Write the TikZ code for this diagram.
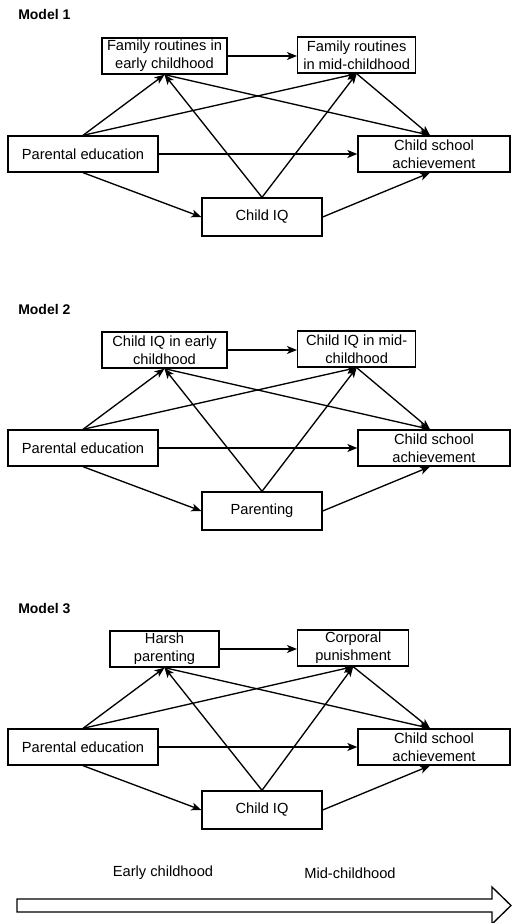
\documentclass[tikz,border=0pt]{standalone}
\usepackage{fontspec}
\setmainfont{Liberation Sans}
\usetikzlibrary{arrows.meta,positioning}

\begin{document}
\begin{tikzpicture}[x=0.75pt,y=-0.75pt,font=\fontsize{11}{13.5}\selectfont,
	box/.style={draw,line width=1pt,align=center,inner sep=1pt,minimum height=36*0.75pt},
	title/.style={font=\fontsize{10.5}{12}\selectfont\bfseries,anchor=west,inner sep=0pt}]
	\useasboundingbox (0,0) rectangle (511,923);
	\foreach \m/\yy/\la/\lb/\lc/\wa/\wb in {1/154/{Family routines in\\early childhood}/{Family routines\\in mid-childhood}/{Child IQ}/125/118,
		2/448/{Child IQ in early\\childhood}/{Child IQ in mid-\\childhood}/{Parenting}/125/118,
		3/747/{Harsh\\parenting}/{Corporal\\punishment}/{Child IQ}/109/111}
	{
		\node[title](T\m) at (18,\yy-139){Model \m};
		\node[box,minimum width=150*0.75pt](P\m) at (83,\yy){Parental education};
		\node[box,minimum width=152*0.75pt](S\m) at (434,\yy){Child school\\achievement};
		\node[box,minimum width=120*0.75pt,minimum height=38*0.75pt](C\m) at (262,\yy+63){\lc};
		\node[box,minimum width=\wa*0.75pt](A\m) at (164.5,\yy-98){\la};
		\node[box,minimum width=\wb*0.75pt,anchor=west](B\m) at (297,\yy-99){\lb};
		
		\path [->,>={Stealth[length=7.5pt,width=6pt,inset=2pt]},line width=1pt]
			(A\m.east) edge (A\m.east -| B\m.west)
			(P\m.north) edge (A\m.south)
			(P\m.north) edge (B\m.south)
			(C\m.north) edge (A\m.south)
			(C\m.north) edge (B\m.south)
			(A\m.south) edge ([xshift=-3pt]S\m.north)
			(B\m.south) edge ([xshift=-3pt]S\m.north)
			(P\m.east) edge (S\m.west)
			(P\m.south) edge (C\m.west)
			(C\m.east) edge ([xshift=-3pt]S\m.south);
	}
	
	\node(E) at (163,873){Early childhood};
	\node(M) at (350,873){Mid-childhood};
	\draw[line width=1pt] (17,899) -- (492,899) -- (492,887) -- (511,905.5) -- (492,924) -- (492,912) -- (17,912) -- cycle;
\end{tikzpicture}
\end{document}
